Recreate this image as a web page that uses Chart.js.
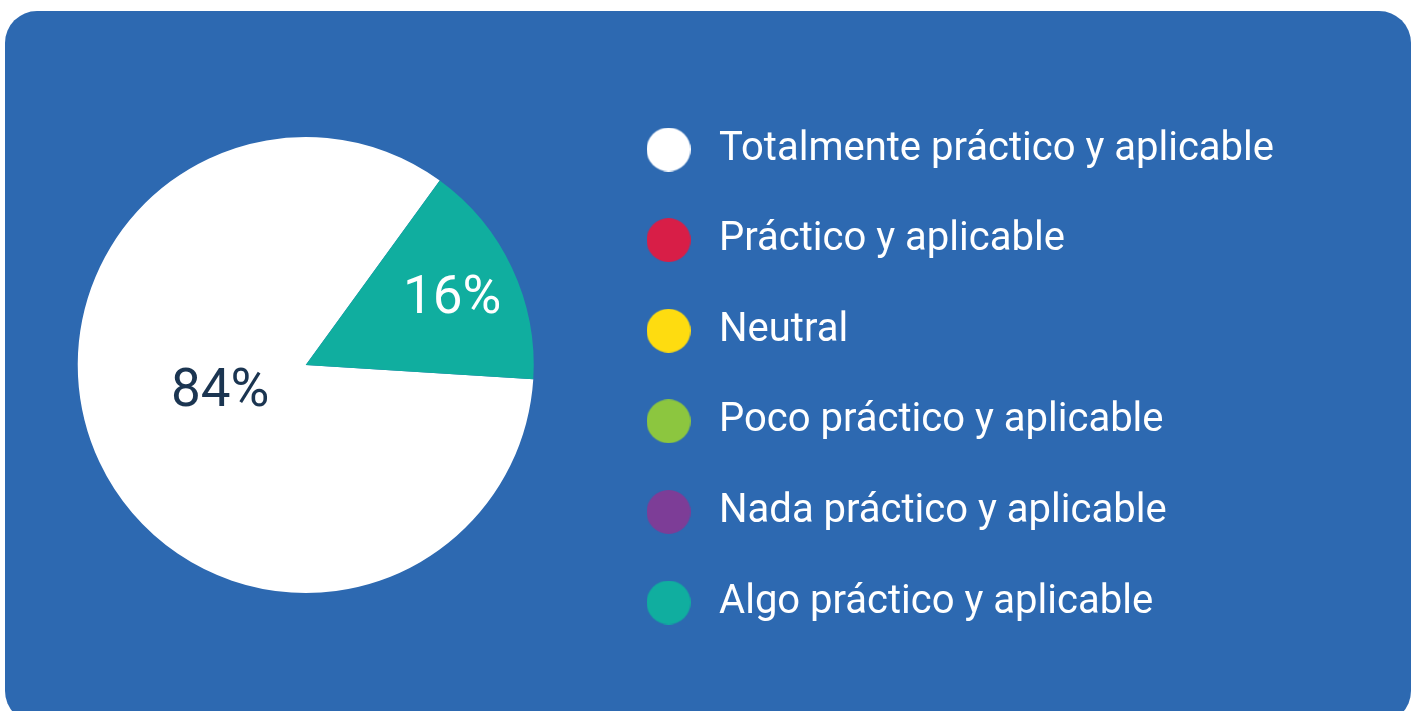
<!DOCTYPE html>
<html>
<head>
<meta charset="utf-8">
<script src="https://cdn.jsdelivr.net/npm/chart.js@4.4.1/dist/chart.umd.min.js"></script>
<style>
    html, body { margin: 0; padding: 0; background: #ffffff; }
    #card {
        position: absolute; left: 5px; top: 11px;
        width: 1406px; height: 712px;
        background: #2d69b1; border-radius: 32px;
    }
    #wrap { position: absolute; left: 0; top: 0; width: 1417px; height: 711px; }
</style>
</head>
<body>
<div id="card"></div>
<div id="wrap"><canvas id="pie"></canvas></div>
<script>
// ---- data ----
const categories = [
    'Totalmente práctico y aplicable',
    'Práctico y aplicable',
    'Neutral',
    'Poco práctico y aplicable',
    'Nada práctico y aplicable',
    'Algo práctico y aplicable'
];
const shares = [84, 0, 0, 0, 0, 16];
const sliceColors = ['#ffffff', '#d81e47', '#fedc10', '#8cc63f', '#7d3d97', '#10ae9f'];
const labelColors = ['#1b3551', '#ffffff', '#ffffff', '#ffffff', '#ffffff', '#ffffff'];

// little round swatch used as the legend point style
function swatch(color) {
    const c = document.createElement('canvas');
    c.width = 44; c.height = 44;
    const g = c.getContext('2d');
    g.fillStyle = color;
    g.beginPath();
    g.arc(22, 22, 22, 0, Math.PI * 2);
    g.fill();
    return c;
}

// percentage text inside each non-empty slice
const sliceLabels = {
    id: 'sliceLabels',
    afterDatasetsDraw(chart, args, opts) {
        const ctx = chart.ctx;
        const meta = chart.getDatasetMeta(0);
        meta.data.forEach((arc, i) => {
            if (!shares[i]) return;
            const p = arc.getProps(['x', 'y', 'startAngle', 'endAngle', 'outerRadius'], true);
            const mid = (p.startAngle + p.endAngle) / 2;
            const r = p.outerRadius * (opts.radial[i] || 0.6);
            const shift = opts.shift[i] || [0, 0];
            ctx.save();
            ctx.font = opts.font;
            ctx.fillStyle = labelColors[i];
            ctx.textAlign = 'center';
            ctx.textBaseline = 'middle';
            ctx.fillText(shares[i] + '%',
                p.x + Math.cos(mid) * r + shift[0],
                p.y + Math.sin(mid) * r + shift[1]);
            ctx.restore();
        });
    }
};

// legend sits a little lower than the pie centre in the original
const legendNudge = {
    id: 'legendNudge',
    afterLayout(chart, args, opts) {
        chart.legend.top += opts.dy;
        chart.legend.bottom += opts.dy;
    }
};

const ctx = document.getElementById('pie').getContext('2d');
const chart = new Chart(ctx, {
    type: 'pie',
    data: {
        labels: categories,
        datasets: [{
            data: shares,
            backgroundColor: sliceColors,
            borderWidth: 0,
            radius: 228
        }]
    },
    options: {
        responsive: true,
        maintainAspectRatio: false,
        animation: false,
        rotation: 93.6,
        layout: { padding: { left: 24, right: 133, top: 19, bottom: 0 } },
        plugins: {
            tooltip: { enabled: false },
            legend: {
                position: 'right',
                maxWidth: 900,
                labels: {
                    usePointStyle: true,
                    pointStyleWidth: 61,
                    padding: 50.6,
                    color: '#ffffff',
                    font: { family: 'Roboto', size: 40 },
                    generateLabels(chart) {
                        const items = Chart.overrides.pie.plugins.legend.labels.generateLabels(chart);
                        items.forEach((it, i) => {
                            it.pointStyle = swatch(sliceColors[i]);
                            it.hidden = false;
                        });
                        return items;
                    }
                }
            },
            legendNudge: { dy: 11 },
            sliceLabels: {
                font: '53px Roboto',
                radial: { 0: 0.4, 5: 0.71 },
                shift: { 0: [-3, -11], 5: [0, 4] }
            }
        }
    },
    plugins: [sliceLabels, legendNudge]
});
</script>
</body>
</html>
